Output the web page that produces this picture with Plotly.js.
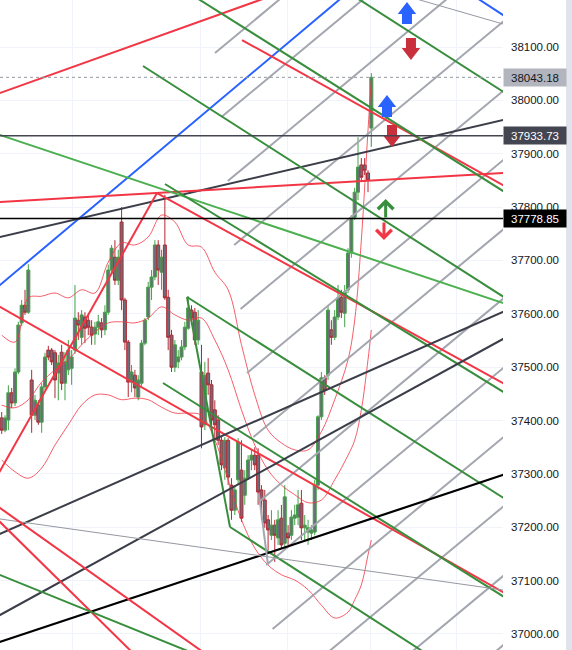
<!DOCTYPE html>
<html><head><meta charset="utf-8">
<script src="https://cdn.plot.ly/plotly-3.0.1.min.js"></script>
<style>html,body{margin:0;padding:0;background:#fff}#chart{width:572px;height:650px}</style>
</head><body><div id="chart"></div>
<script>
// ---- candles (bar index 0..111) ----
const openP = [37405,37382,37401,37452,37433,37491,37583,37616,37603,37476,
37410,37429,37397,37463,37532,37532,37527,37489,37528,37470,
37495,37498,37532,37588,37556,37594,37588,37575,37562,37575,
37583,37570,37603,37682,37706,37663,37772,37626,37547,37472,
37485,37444,37470,37545,37594,37650,37669,37729,37678,37729,
37631,37560,37500,37510,37519,37538,37573,37607,37603,37551,
37491,37392,37489,37467,37420,37401,37363,37311,37363,37279,
37232,37289,37307,37260,37292,37326,37335,37335,37270,37251,
37214,37185,37204,37180,37217,37170,37189,37185,37217,37219,
37245,37199,37191,37189,37191,37279,37407,37480,37485,37570,
37556,37594,37631,37601,37645,37714,37781,37828,37879,37879,
37864,37948];
const highP = [37416,37410,37466,37461,37498,37585,37626,37645,37693,37495,
37448,37438,37470,37527,37540,37536,37532,37523,37542,37528,
37551,37532,37654,37603,37607,37603,37598,37588,37585,37598,
37592,37616,37692,37729,37738,37720,37800,37630,37551,37504,
37495,37485,37551,37592,37660,37682,37738,37738,37720,37823,
37645,37570,37551,37532,37551,37585,37633,37616,37611,37607,
37542,37510,37517,37476,37438,37410,37369,37369,37367,37292,
37279,37367,37363,37307,37335,37345,37350,37348,37279,37270,
37223,37232,37214,37232,37242,37279,37204,37232,37242,37270,
37270,37223,37214,37204,37289,37410,37491,37485,37616,37588,
37607,37654,37645,37654,37723,37785,37836,37931,37892,37892,
37869,38051];
const lowP = [37375,37378,37382,37423,37427,37487,37577,37598,37600,37377,
37401,37392,37377,37457,37513,37504,37442,37438,37457,37438,
37485,37467,37525,37551,37542,37545,37560,37542,37542,37560,
37555,37560,37598,37673,37654,37654,37607,37532,37444,37453,
37444,37438,37465,37541,37588,37626,37663,37654,37645,37626,
37532,37491,37491,37498,37513,37532,37570,37579,37542,37542,
37348,37382,37448,37392,37363,37354,37307,37289,37279,37214,
37223,37279,37210,37242,37289,37307,37307,37242,37214,37199,
37157,37176,37135,37167,37161,37161,37167,37176,37204,37204,
37176,37176,37167,37176,37185,37270,37401,37448,37476,37542,
37551,37588,37592,37575,37639,37705,37776,37813,37847,37860,
37828,37913];
const closeP = [37382,37405,37452,37433,37491,37579,37616,37603,37682,37410,
37438,37397,37463,37519,37519,37510,37476,37508,37470,37510,
37532,37519,37592,37579,37598,37573,37575,37560,37575,37585,
37570,37603,37682,37723,37663,37706,37626,37547,37472,37491,
37461,37476,37545,37588,37650,37669,37729,37682,37706,37630,
37556,37500,37542,37519,37538,37575,37611,37592,37551,37588,
37388,37485,37467,37401,37392,37363,37317,37363,37294,37232,
37270,37360,37217,37292,37326,37335,37317,37266,37251,37208,
37195,37204,37185,37214,37167,37257,37180,37219,37223,37242,
37199,37204,37199,37195,37279,37407,37480,37457,37607,37556,
37594,37630,37603,37641,37714,37781,37828,37875,37856,37869,
37851,38043.18];

// ---- envelope / band indicator (sampled at bar indices) ----
const bandIdx   = [0,4,8,12,16,20,24,28,32,36,40,44,48,52,56,60,64,68,72,76,80,84,88,92,96,100,104,106,108,110,111];
const bandUpper = [37560,37547,37630,37633,37639,37630,37645,37639,37697,37733,37729,37744,37785,37772,37729,37725,37678,37645,37542,37448,37382,37358,37345,37345,37379,37439,37514,37588,37738,37944,38038];
const bandMid   = [37429,37424,37439,37472,37495,37514,37542,37566,37583,37585,37583,37592,37613,37598,37588,37592,37551,37495,37420,37354,37307,37279,37261,37246,37251,37289,37335,37363,37420,37514,37570];
const bandLower = [37326,37304,37292,37311,37354,37392,37429,37448,37448,37439,37442,37439,37425,37414,37414,37410,37364,37289,37214,37161,37129,37111,37101,37083,37054,37030,37041,37064,37092,37148,37176];

// ---- drawn trend lines: start bar, start price, end bar, end price ----
const tlX0 = [-3.51,-3.51,-3.51,-3.51,72.16,56.55,106.1,42.43,-3.51,-3.51,46.64,49.03,-3.51,48.44,55.64,55.64,68.56,-3.51,-3.51,-3.51,-3.51,122.6,-3.51,-3.51,-3.51,142.1,77.27];
const tlP0 = [38007.1,37638.3,37739.6,37808.4,38113.1,38199.9,38194.1,38064.4,37941.3,37272.3,37826.4,37843.3,37623.5,37470.4,37631.5,37631.5,37200.5,37179.2,37025.3,36978.9,37218.2,38193.5,37249.5,37228.3,37118.1,38194.3,37260.5];
const tlX1 = [80.57,103.09,152.6,152.6,152.6,152.6,152.6,152.6,152.6,46.64,152.6,152.6,152.6,152.6,152.6,68.56,128.6,152.6,152.6,152.6,152.6,152.6,62.55,41.53,58.05,152.6,79.97];
const tlP1 = [38194.8,38197.5,37966.2,37864.7,37833.9,37822.1,38008.2,37624.2,37616.0,37826.4,37462.9,37446.0,37071.2,37062.6,37247.4,37200.5,36958.8,37609.2,37559.9,37302.3,37080.6,38139.4,36956.9,36951.3,36962.6,38151.6,37129.3];
const tlKind = ['red','blue','dark','red','red','green','green','green','lgreen','red','red','green','red','green','green','green','green','dark','dark','black','thin','thin','red','red','green','blue','gray'];

// parallel gray fan lines: start bar/price, end bar/price
const fanX0 = [64.05,65.98,67.90,69.82,71.74,73.66,75.59,77.51,79.43,81.35,83.27,85.19,87.12];
const fanP0 = [38088.8,37968.8,37848.9,37729.0,37609.1,37489.1,37369.2,37249.3,37129.3,37009.4,36889.5,36769.5,36649.6];
const fanX1 = [152.6,152.6,152.6,152.6,152.6,152.6,152.6,152.6,152.6,152.6,152.6,152.6,152.6];
const fanP1 = [38547.7,38417.8,38288.0,38158.1,38028.2,37898.4,37768.5,37638.7,37508.8,37378.9,37249.1,37119.2,36989.4];

// horizontal price levels
const lastPrice = 38043.18;
const hLevels = [37933.73, 37778.85];

// signal arrows (bar, price of head centre, price of stem centre)
const upBlueX = [121.7,115.7], upBlueHead = [38169.4,37995.1], upBlueStem = [38152.5,37978.2];
const dnRedX = [122.9,117.2], dnRedHead = [38090.7,37927.6], dnRedStem = [38107.5,37944.5];
// outline arrows: bar, tip price, tail price
const upGreen = {x:115.3, tip:37815.2, tail:37777.7};
const dnRed = {x:114.8, tip:37738.4, tail:37774.0};

// vertical session grid (bar positions)
const sessionTicks = [21.4,59.8,85.7,110.6,136.7];

// ---- styles ----
const STY = {
  red:{color:'#f23645',width:2}, blue:{color:'#2962ff',width:2}, dark:{color:'#3b3e48',width:2},
  green:{color:'#388e3c',width:2}, lgreen:{color:'#4caf50',width:2}, black:{color:'#000000',width:2.2},
  thin:{color:'#9598a1',width:1}, gray:{color:'#a3a6ae',width:2}
};

const xIdx = openP.map((_, i) => i);
const traces = [];
traces.push({type:'candlestick', x:xIdx, open:openP, high:highP, low:lowP, close:closeP,
  increasing:{line:{color:'#43a047',width:1}, fillcolor:'#6b6e78'},
  decreasing:{line:{color:'#b22833',width:1}, fillcolor:'#6b6e78'},
  whiskerwidth:0, hoverinfo:'skip', showlegend:false});
[bandUpper, bandMid, bandLower].forEach(b => traces.push({type:'scatter', mode:'lines', x:bandIdx, y:b,
  line:{color:'rgba(242,54,69,0.8)', width:1, shape:'spline'}, hoverinfo:'skip', showlegend:false}));
for (let i = 0; i < fanX0.length; i++) traces.push({type:'scatter', mode:'lines', x:[fanX0[i],fanX1[i]], y:[fanP0[i],fanP1[i]],
  line:STY.gray, hoverinfo:'skip', showlegend:false});
for (let i = 0; i < tlX0.length; i++) traces.push({type:'scatter', mode:'lines', x:[tlX0[i],tlX1[i]], y:[tlP0[i],tlP1[i]],
  line:STY[tlKind[i]], hoverinfo:'skip', showlegend:false});
traces.push({type:'scatter', mode:'markers', x:upBlueX, y:upBlueStem, marker:{symbol:'square', size:10, color:'#2962ff', line:{width:0}}, hoverinfo:'skip', showlegend:false});
traces.push({type:'scatter', mode:'markers', x:upBlueX, y:upBlueHead, marker:{symbol:'triangle-up', size:16, color:'#2962ff', line:{width:0}}, hoverinfo:'skip', showlegend:false});
traces.push({type:'scatter', mode:'markers', x:dnRedX, y:dnRedStem, marker:{symbol:'square', size:10, color:'#c9303c', line:{width:0}}, hoverinfo:'skip', showlegend:false});
traces.push({type:'scatter', mode:'markers', x:dnRedX, y:dnRedHead, marker:{symbol:'triangle-down', size:16, color:'#c9303c', line:{width:0}}, hoverinfo:'skip', showlegend:false});

const FONT = 'Liberation Sans, Arial, sans-serif';
const shapes = [
  {type:'line', xref:'paper', x0:0, x1:1, yref:'y', y0:lastPrice, y1:lastPrice, line:{color:'#9598a1', width:1, dash:'dot'}},
  {type:'line', xref:'paper', x0:0, x1:1, yref:'y', y0:hLevels[0], y1:hLevels[0], line:{color:'#434651', width:1.5}},
  {type:'line', xref:'paper', x0:0, x1:1, yref:'y', y0:hLevels[1], y1:hLevels[1], line:{color:'#000000', width:1.5}},
  {type:'rect', xref:'paper', x0:566/503, x1:572/503, yref:'paper', y0:0, y1:1, fillcolor:'#e0e3eb', line:{width:0}}
];
const tag = (y, txt, bg, fg) => ({xref:'paper', x:1, xanchor:'left', yref:'y', y:y, yanchor:'middle', text:txt, showarrow:false,
  bgcolor:bg, font:{family:FONT, size:11.5, color:fg}, width:58, height:13, borderpad:2, align:'center'});
const annotations = [
  tag(lastPrice, lastPrice.toFixed(2), '#b2b5be', '#131722'),
  tag(hLevels[0], hLevels[0].toFixed(2), '#434651', '#ffffff'),
  tag(hLevels[1], hLevels[1].toFixed(2), '#000000', '#ffffff'),
  {x:upGreen.x, y:upGreen.tip, ax:upGreen.x, ay:upGreen.tail, xref:'x', yref:'y', axref:'x', ayref:'y', text:'', showarrow:true,
   arrowhead:4, arrowsize:1, arrowwidth:3, arrowcolor:'#388e3c'},
  {x:dnRed.x, y:dnRed.tip, ax:dnRed.x, ay:dnRed.tail, xref:'x', yref:'y', axref:'x', ayref:'y', text:'', showarrow:true,
   arrowhead:4, arrowsize:1, arrowwidth:3, arrowcolor:'#f23645'}
];

const layout = {
  width:572, height:650, margin:{l:0, r:69, t:0, b:0},
  paper_bgcolor:'#ffffff', plot_bgcolor:'#ffffff', showlegend:false, dragmode:false,
  boxgap:0.1, boxgroupgap:0,
  xaxis:{range:[-0.51,150.54], tickvals:sessionTicks, showticklabels:false, ticks:'', showgrid:true, gridcolor:'#f0f3fa',
         zeroline:false, showline:false, rangeslider:{visible:false}, fixedrange:true},
  yaxis:{range:[36970,38188.1], side:'right', dtick:100, tick0:0, tickformat:'.2f', showgrid:true, gridcolor:'#f0f3fa',
         zeroline:false, showline:false, ticks:'', ticklabelstandoff:7, tickfont:{family:FONT, size:11.5, color:'#131722'}, fixedrange:true},
  shapes:shapes, annotations:annotations
};
Plotly.newPlot('chart', traces, layout, {staticPlot:true, displayModeBar:false});
</script></body></html>
